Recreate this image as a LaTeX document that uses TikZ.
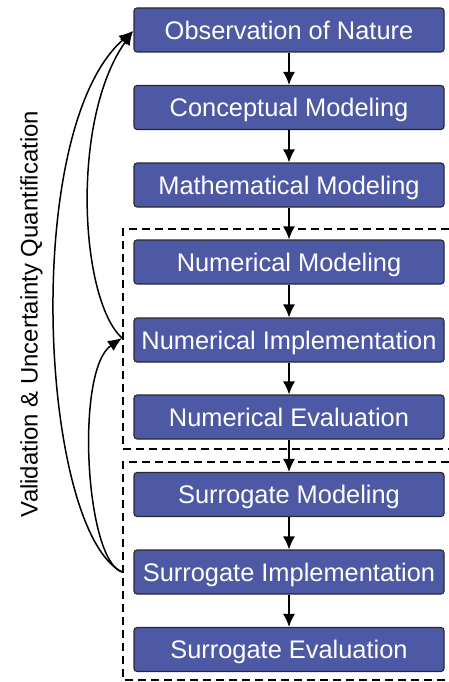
\documentclass[tikz,border=0pt]{standalone}
\usepackage{fontspec}
\setmainfont{Liberation Sans}
\usetikzlibrary{arrows.meta}
\definecolor{boxblue}{RGB}{78,89,165}
\definecolor{boxedge}{RGB}{40,40,40}
\tikzset{
  stepbox/.style={draw=boxedge, line width=1.1bp, fill=boxblue, rounded corners=3bp,
    minimum width=310bp, minimum height=44bp, inner sep=0pt, text=white,
    font=\fontsize{25.5}{26}\selectfont, text height=18.3bp, text depth=0pt},
  arr/.style={line width=1.5bp, -{Latex[length=13bp,width=12bp]}},
  back/.style={line width=1.5bp, -{Latex[length=14bp,width=12bp]}},
  dbox/.style={line width=1.5bp, dash pattern=on 8bp off 5bp},
}
\begin{document}
\begin{tikzpicture}[x=1bp,y=-1bp]
\useasboundingbox (0,0) rectangle (449,682);
\node[stepbox] (obs) at (289,30) {Observation of Nature};
\node[stepbox] (con) at (289,107.5) {Conceptual Modeling};
\node[stepbox] (mat) at (289,185) {Mathematical Modeling};
\node[stepbox] (nmod) at (289,262) {Numerical Modeling};
\node[stepbox] (nimp) at (289,340) {Numerical Implementation};
\node[stepbox] (neva) at (289,417) {Numerical Evaluation};
\node[stepbox] (smod) at (289,494.5) {Surrogate Modeling};
\node[stepbox] (simp) at (289,572) {Surrogate Implementation};
\node[stepbox] (seva) at (289,649.5) {Surrogate Evaluation};
\draw[dbox] (449,229) -- (123,229) -- (123,449) -- (449,449);
\draw[dbox] (449,462) -- (123,462) -- (123,680) -- (449,680);
\draw[arr] (obs) -- (con);
\draw[arr] (con) -- (mat);
\draw[arr] (mat) -- (nmod);
\draw[arr] (nmod) -- (nimp);
\draw[arr] (nimp) -- (neva);
\draw[arr] (neva) -- (smod);
\draw[arr] (smod) -- (simp);
\draw[arr] (simp) -- (seva);
\coordinate (ni) at (122,338);
\coordinate (si) at (122,572);
\coordinate (ob) at (133,31);
\draw[back] (ni) .. controls (80,300) and (70,120) .. (ob);
\draw[back] (si) .. controls (40,530) and (20,130) .. (ob);
\draw[back] (si) .. controls (85,560) and (75,370) .. (ni);
\node[rotate=90, font=\fontsize{24}{25}\selectfont, text height=17.2bp, text depth=0pt, inner sep=0pt] (vuq) at (29,314) {Validation \& Uncertainty Quantification};
\end{tikzpicture}
\end{document}
